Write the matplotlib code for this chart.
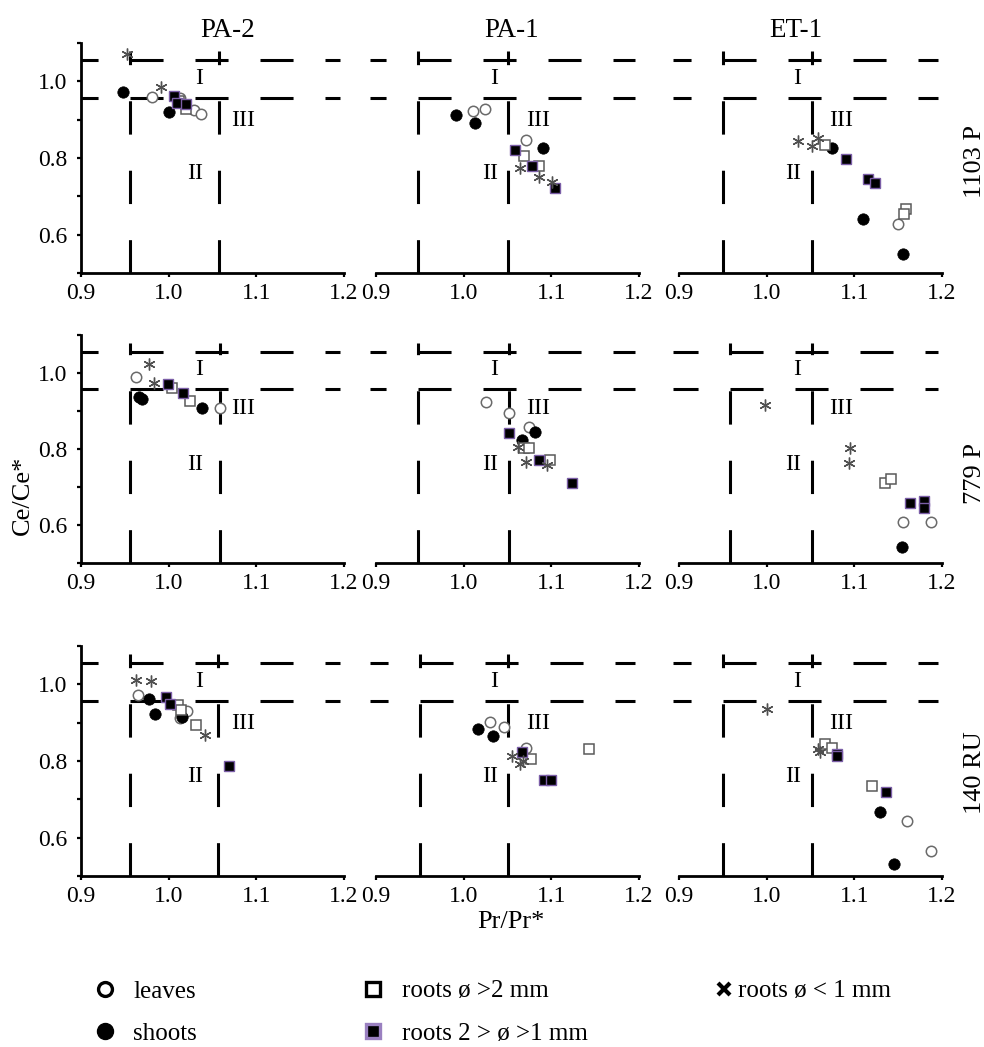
import numpy as np
import matplotlib
matplotlib.use("Agg")
import matplotlib.pyplot as plt
from matplotlib.lines import Line2D
from matplotlib.ticker import MultipleLocator

plt.rcParams['font.family'] = ['Liberation Serif', 'DejaVu Serif']
plt.rcParams['lines.scale_dashes'] = False

columns = ["PA-2", "PA-1", "ET-1"]
rows = ["1103 P", "779 P", "140 RU"]
categories = ["leaves", "shoots", "roots ø >2 mm", "roots 2 > ø >1 mm", "roots ø < 1 mm"]

# (Pr/Pr*, Ce/Ce*) pairs
# --- 1103 P ---
pa2_1103_leaves = [(0.981, 0.960), (1.013, 0.956), (1.029, 0.924), (1.037, 0.914)]
pa2_1103_shoots = [(0.948, 0.972), (1.000, 0.921)]
pa2_1103_thick = [(1.012, 0.948), (1.020, 0.929)]
pa2_1103_mid = [(1.006, 0.962), (1.010, 0.943), (1.020, 0.940)]
pa2_1103_fine = [(0.952, 1.071), (0.991, 0.986)]

pa1_1103_leaves = [(1.011, 0.922), (1.024, 0.927), (1.071, 0.847)]
pa1_1103_shoots = [(0.991, 0.912), (1.013, 0.892), (1.090, 0.827)]
pa1_1103_thick = [(1.069, 0.805), (1.086, 0.779)]
pa1_1103_mid = [(1.059, 0.820), (1.078, 0.779), (1.104, 0.722)]
pa1_1103_fine = [(1.064, 0.774), (1.086, 0.751), (1.101, 0.738)]

et1_1103_leaves = [(1.150, 0.628)]
et1_1103_shoots = [(1.075, 0.827), (1.110, 0.641), (1.156, 0.549)]
et1_1103_thick = [(1.067, 0.833), (1.159, 0.667), (1.157, 0.655)]
et1_1103_mid = [(1.090, 0.798), (1.116, 0.744), (1.124, 0.735)]
et1_1103_fine = [(1.036, 0.844), (1.052, 0.831), (1.059, 0.853)]

# --- 779 P ---
pa2_779_leaves = [(0.963, 0.989), (1.058, 0.907)]
pa2_779_shoots = [(0.966, 0.936), (0.970, 0.932), (1.038, 0.909)]
pa2_779_thick = [(1.004, 0.960), (1.024, 0.926)]
pa2_779_mid = [(0.999, 0.971), (1.016, 0.948)]
pa2_779_fine = [(0.977, 1.023), (0.983, 0.975)]

pa1_779_leaves = [(1.025, 0.925), (1.052, 0.894), (1.074, 0.859)]
pa1_779_shoots = [(1.081, 0.846), (1.067, 0.825)]
pa1_779_thick = [(1.069, 0.803), (1.074, 0.803), (1.098, 0.771)]
pa1_779_mid = [(1.052, 0.841), (1.086, 0.771), (1.124, 0.710)]
pa1_779_fine = [(1.062, 0.804), (1.071, 0.767), (1.095, 0.758)]

et1_779_leaves = [(1.156, 0.609), (1.187, 0.607)]
et1_779_shoots = [(1.154, 0.543)]
et1_779_thick = [(1.135, 0.710), (1.142, 0.721)]
et1_779_mid = [(1.164, 0.657), (1.179, 0.663), (1.179, 0.646)]
et1_779_fine = [(0.998, 0.916), (1.095, 0.802), (1.094, 0.762)]

# --- 140 RU ---
pa2_140_leaves = [(0.965, 0.971), (1.0125, 0.912), (1.021, 0.930)]
pa2_140_shoots = [(0.978, 0.963), (0.984, 0.923), (1.015, 0.916)]
pa2_140_thick = [(1.011, 0.945), (1.014, 0.932), (1.031, 0.893)]
pa2_140_mid = [(0.997, 0.967), (1.002, 0.948), (1.069, 0.788)]
pa2_140_fine = [(0.963, 1.012), (0.980, 1.010), (1.042, 0.868)]

pa1_140_leaves = [(1.0295, 0.901), (1.0455, 0.888), (1.071, 0.834)]
pa1_140_shoots = [(1.016, 0.884), (1.033, 0.866)]
pa1_140_thick = [(1.077, 0.806), (1.143, 0.832)]
pa1_140_mid = [(1.066, 0.823), (1.092, 0.751), (1.100, 0.751)]
pa1_140_fine = [(1.055, 0.814), (1.064, 0.792), (1.068, 0.800)]

et1_140_leaves = [(1.160, 0.644), (1.188, 0.565)]
et1_140_shoots = [(1.1295, 0.666), (1.145, 0.531)]
et1_140_thick = [(1.066, 0.845), (1.074, 0.834), (1.120, 0.736)]
et1_140_mid = [(1.080, 0.819), (1.080, 0.814), (1.136, 0.718)]
et1_140_fine = [(1.000, 0.935), (1.058, 0.832), (1.061, 0.823)]

panels = [
    [[pa2_1103_leaves, pa2_1103_shoots, pa2_1103_thick, pa2_1103_mid, pa2_1103_fine],
     [pa1_1103_leaves, pa1_1103_shoots, pa1_1103_thick, pa1_1103_mid, pa1_1103_fine],
     [et1_1103_leaves, et1_1103_shoots, et1_1103_thick, et1_1103_mid, et1_1103_fine]],
    [[pa2_779_leaves, pa2_779_shoots, pa2_779_thick, pa2_779_mid, pa2_779_fine],
     [pa1_779_leaves, pa1_779_shoots, pa1_779_thick, pa1_779_mid, pa1_779_fine],
     [et1_779_leaves, et1_779_shoots, et1_779_thick, et1_779_mid, et1_779_fine]],
    [[pa2_140_leaves, pa2_140_shoots, pa2_140_thick, pa2_140_mid, pa2_140_fine],
     [pa1_140_leaves, pa1_140_shoots, pa1_140_thick, pa1_140_mid, pa1_140_fine],
     [et1_140_leaves, et1_140_shoots, et1_140_thick, et1_140_mid, et1_140_fine]],
]

# boundary lines of the fields I / II / III
h_lines = [1.055, 0.957]
v_lines = [
    [[0.956, 1.057], [0.948, 1.050], [0.950, 1.052]],
    [[0.956, 1.058], [0.948, 1.052], [0.958, 1.052]],
    [[0.956, 1.056], [0.950, 1.050], [0.950, 1.052]],
]

styles = [
    dict(marker='o', ms=7.5, mfc='white', mec='#6a6a6a', mew=1.1),
    dict(marker='o', ms=8.2, mfc='black', mec='black', mew=0.5),
    dict(marker='s', ms=7, mfc='white', mec='#5a5a5a', mew=1.1),
    dict(marker='s', ms=7, mfc='black', mec='#7b5ea7', mew=1.0),
    dict(marker=(6, 2, 0), ms=8.5, mec='#505050', mew=1.0),
]
leg_styles = [
    dict(marker='o', ms=10, mfc='white', mec='black', mew=2.4),
    dict(marker='o', ms=11.5, mfc='black', mec='black'),
    dict(marker='s', ms=10, mfc='white', mec='black', mew=2.4),
    dict(marker='s', ms=10, mfc='black', mec='#9a80c0', mew=2.4),
    dict(marker='x', ms=9, mec='black', mew=3.0),
]

W, H = 984, 1047
fig = plt.figure(figsize=(W / 100, H / 100), dpi=100)

col_left = [81, 376, 679]
row_top = [43, 335, 646]
row_bottom = [273, 563, 876]
ax_w = 263

for r in range(3):
    for c in range(3):
        ax = fig.add_axes([col_left[c] / W, 1 - row_bottom[r] / H,
                           ax_w / W, (row_bottom[r] - row_top[r]) / H])
        ax.set_xlim(0.9, 1.2)
        ax.set_ylim(0.5, 1.1)
        for s in ['top', 'right']:
            ax.spines[s].set_visible(False)
        ax.spines['bottom'].set_linewidth(2.0)
        ax.spines['left'].set_linewidth(2.0)
        ax.set_xticks([0.9, 1.0, 1.1, 1.2])
        ax.set_xticklabels(['0.9', '1.0', '1.1', '1.2'])
        ax.tick_params(axis='x', direction='out', length=3, width=1.6,
                       labelsize=17, pad=4)
        if c == 0:
            ax.set_yticks([0.6, 0.8, 1.0])
            ax.set_yticklabels(['0.6', '0.8', '1.0'])
            ax.yaxis.set_minor_locator(MultipleLocator(0.1))
            ax.tick_params(axis='y', which='both', direction='out', length=3,
                           width=1.6, labelsize=17, pad=7)
        else:
            ax.spines['left'].set_visible(False)
            ax.set_yticks([])

        # dashed field boundaries
        vx = v_lines[r][c]
        x0 = 0.9 if c == 0 else 0.893
        kw = dict(color='black', lw=2.2, clip_on=False, dash_capstyle='butt', zorder=2)
        for yv in h_lines:
            ax.plot([vx[0], 1.195], [yv, yv], linestyle=(0, (23.8, 23.0)), **kw)
            ax.plot([vx[0], x0], [yv, yv], linestyle=(23.8, (23.8, 23.0)), **kw)
        for xv in vx:
            ax.plot([xv, xv], [0.5, 1.078], linestyle=(0, (24.0, 26.0)), **kw)

        ax.text(1.035, 1.008, 'I', ha='center', va='center', fontsize=17)
        ax.text(1.030, 0.760, 'II', ha='center', va='center', fontsize=17)
        ax.text(1.085, 0.907 if r == 1 else 0.897, 'III', ha='center', va='center', fontsize=17)

        for pts, st in zip(panels[r][c], styles):
            arr = np.array(pts)
            ax.plot(arr[:, 0], arr[:, 1], linestyle='none', zorder=3, **st)

# column titles and row labels
title_x = [228, 512, 796]
for name, x in zip(columns, title_x):
    fig.text(x / W, 1 - 37 / H, name, ha='center', va='baseline', fontsize=19.5)
row_y = [162, 474, 773]
for name, y in zip(rows, row_y):
    fig.text(975 / W, 1 - y / H, name, rotation=90, ha='center', va='center', fontsize=19)

fig.text(23 / W, 1 - 495 / H, 'Ce/Ce*', rotation=90, ha='center', va='center', fontsize=19)
fig.text(511 / W, 1 - 922 / H, 'Pr/Pr*', ha='center', va='center', fontsize=19)

# legend in three columns
handles = [Line2D([], [], linestyle='none', **st) for st in leg_styles]
leg_cols = [([0, 1], 105, 0.82), ([2, 3], 373, 0.86), ([4], 724, 0.28)]
for idx, xc, pad in leg_cols:
    leg = fig.legend([handles[i] for i in idx], [categories[i] for i in idx],
                     loc='upper left', bbox_to_anchor=((xc - 7.5) / W, 1 - 980 / H),
                     frameon=False, fontsize=18, handlelength=0.6,
                     handletextpad=pad, labelspacing=0.8, borderpad=0,
                     borderaxespad=0)

fig.savefig('out.png', dpi=100)
